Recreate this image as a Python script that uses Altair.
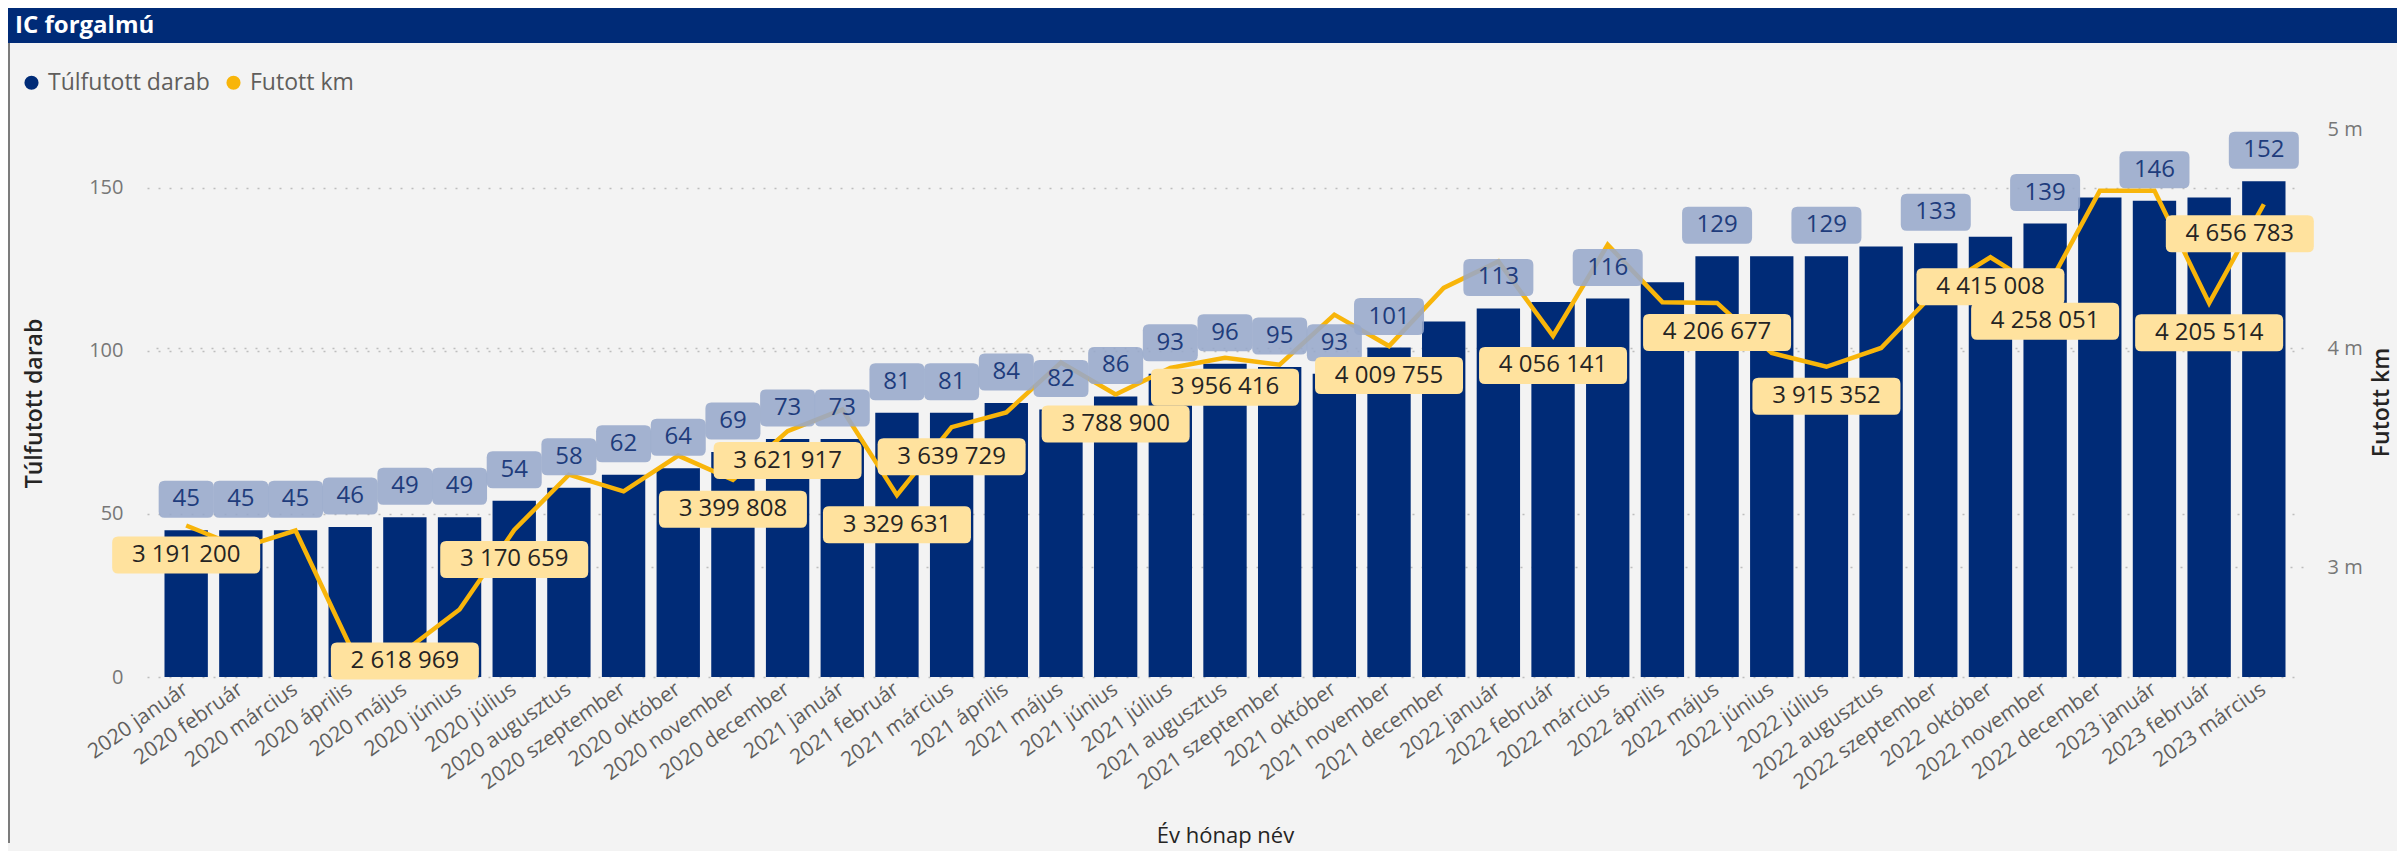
import altair as alt
import pandas as pd

months = [
    "2020 január", "2020 február", "2020 március", "2020 április", "2020 május", "2020 június",
    "2020 július", "2020 augusztus", "2020 szeptember", "2020 október", "2020 november", "2020 december",
    "2021 január", "2021 február", "2021 március", "2021 április", "2021 május", "2021 június",
    "2021 július", "2021 augusztus", "2021 szeptember", "2021 október", "2021 november", "2021 december",
    "2022 január", "2022 február", "2022 március", "2022 április", "2022 május", "2022 június",
    "2022 július", "2022 augusztus", "2022 szeptember", "2022 október", "2022 november", "2022 december",
    "2023 január", "2023 február", "2023 március",
]
tulfutott = [45, 45, 45, 46, 49, 49, 54, 58, 62, 64, 69, 73, 73, 81, 81, 84, 82, 86, 93, 96, 95, 93, 101, 109,
             113, 115, 116, 121, 129, 129, 129, 132, 133, 135, 139, 147, 146, 147, 152]
futott_km = [3191200, 3090000, 3168000, 2640000, 2618969, 2808000, 3170659, 3423000, 3347000, 3510000,
             3399808, 3621917, 3720000, 3329631, 3639729, 3707000, 3935000, 3788900, 3910000, 3956416,
             3925000, 4153000, 4009755, 4275000, 4396000, 4056141, 4472000, 4210000, 4206677, 3978000,
             3915352, 4001000, 4260000, 4415008, 4258051, 4718000, 4718000, 4205514, 4656783]
series_names = ["Túlfutott darab", "Futott km"]
# which data labels Power BI displayed
bar_label_idx = list(range(23)) + [24, 26, 28, 30, 32, 34, 36, 38]
line_label_idx = [0, 4, 6, 10, 11, 13, 14, 17, 19, 22, 25, 28, 30, 33, 34, 37, 38]

NAVY = "#002B77"
GOLD = "#F8B50A"
BG = "#F3F3F3"
FONT = "Open Sans"

df = pd.DataFrame({"honap": months, "db": tulfutott, "km": futott_km, "i": range(len(months))})
df["series"] = series_names[0]
df["bar_lab"] = df["i"].isin(bar_label_idx)
df["line_lab"] = df["i"].isin(line_label_idx)

W, H = 2156, 548
PAD = {"left": 139, "top": 121, "right": 94, "bottom": 174}


def rrect(w, h, r):
    a = 1.0
    b = h / w
    c = r / (w / 2)
    return (f"M{-a+c},{-b} L{a-c},{-b} Q{a},{-b} {a},{-b+c} L{a},{b-c} Q{a},{b} {a-c},{b} "
            f"L{-a+c},{b} Q{-a},{b} {-a},{b-c} L{-a},{-b+c} Q{-a},{-b} {-a+c},{-b} Z")


xscale = alt.Scale(paddingInner=0.207, paddingOuter=0.32)
X = alt.X(
    "honap:N", sort=months, scale=xscale, title="Év hónap név",
    axis=alt.Axis(labelAngle=325, labelAlign="right", labelBaseline="middle",
                  labelFontSize=21, labelColor="#605E5C", labelPadding=10, ticks=False, domain=False,
                  titleFontSize=22, titleFontWeight="normal", titleColor="#252423",
                  titleY=158, titleBaseline="middle", labelOverlap=False, grid=False),
)

yL_scale = alt.Scale(domain=[0, 168], nice=False, zero=True)
yR_scale = alt.Scale(domain=[2500000, 5000000], nice=False, zero=False)

grid_kw = dict(grid=True, gridDash=[2, 9], gridColor="#BDBDBD", gridWidth=1.5, ticks=False, domain=False)

YL = alt.Y("db:Q", scale=yL_scale, title="Túlfutott darab",
           axis=alt.Axis(values=[0, 50, 100, 150], labelFontSize=20, labelColor="#777777",
                         labelPadding=24, titleFontSize=23, titleFontWeight=600, titleColor="#252423",
                         titleX=-113, titleY=274, titleAngle=270, titleAlign="center",
                         titleBaseline="middle", **grid_kw))
YL_plain = alt.Y("db:Q", scale=yL_scale, axis=None)

YR = alt.Y("km:Q", scale=yR_scale, title="Futott km",
           axis=alt.Axis(orient="right", values=[3000000, 4000000, 5000000],
                         labelExpr="datum.value / 1000000 + ' m'", labelFontSize=20,
                         labelColor="#777777", labelPadding=24, titleFontSize=23, titleFontWeight=600,
                         titleColor="#252423", titleX=78, titleY=273, titleAngle=270,
                         titleAlign="center", titleBaseline="middle",
                         gridOpacity={"condition": {"test": "datum.value >= 5000000", "value": 0}, "value": 1},
                         **grid_kw))
YR_plain = alt.Y("km:Q", scale=yR_scale, axis=None)

base = alt.Chart(df)

bars = base.mark_bar().encode(
    x=X, y=YL,
    color=alt.Color("series:N",
                    scale=alt.Scale(domain=series_names, range=[NAVY, GOLD]),
                    legend=alt.Legend(orient="none", legendX=-127, legendY=-58, direction="horizontal",
                                      title=None, symbolType="circle", symbolSize=200, symbolStrokeWidth=0,
                                      labelFontSize=23, labelColor="#605E5C", labelOffset=5, labelLimit=0,
                                      columnPadding=12, padding=0, labelFont=FONT)),
)

line = base.mark_line(color=GOLD, strokeWidth=4.5).encode(x=X, y=YR)

bar_lab_data = base.transform_filter("datum.bar_lab")
box2 = bar_lab_data.transform_filter("datum.db < 100").mark_point(
    shape=rrect(55, 37, 6), filled=True, size=55 * 55, color="#97A9CB", opacity=0.88,
    strokeWidth=0, yOffset=-31).encode(x=X, y=YL_plain)
box3 = bar_lab_data.transform_filter("datum.db >= 100").mark_point(
    shape=rrect(70, 37, 6), filled=True, size=70 * 70, color="#97A9CB", opacity=0.88,
    strokeWidth=0, yOffset=-31).encode(x=X, y=YL_plain)
bar_txt = bar_lab_data.mark_text(fontSize=24, color="#203C7C", font=FONT, baseline="middle",
                                 yOffset=-31).encode(x=X, y=YL_plain, text="db:Q")
bar_labels = alt.layer(box2, box3, bar_txt)

lab_expr = "replace(replace(format(datum.km, ',d'), ',', ' '), ',', ' ')"
line_lab_data = base.transform_filter("datum.line_lab").transform_calculate(lab=lab_expr)


def line_label(filt, dx, dy):
    d = line_lab_data.transform_filter(filt)
    box = d.mark_point(shape=rrect(148, 37, 6), filled=True, size=148 * 148, color="#FFE29E",
                       opacity=1, strokeWidth=0, xOffset=dx, yOffset=dy).encode(x=X, y=YR_plain)
    txt = d.mark_text(fontSize=24, color="#252423", font=FONT, baseline="middle",
                      xOffset=dx, yOffset=dy).encode(x=X, y=YR_plain, text="lab:N")
    return [box, txt]


ll = []
ll += line_label("datum.i != 4 && datum.i != 38", 0, 29.5)
ll += line_label("datum.i == 4", 0, 10)
ll += line_label("datum.i == 38", -24, 29.5)
line_labels = alt.layer(*ll)

one = pd.DataFrame({"t": ["IC forgalmú"]})
header = alt.Chart(one).mark_rect(color=NAVY).encode(
    x=alt.value(-140), x2=alt.value(2250), y=alt.value(-121), y2=alt.value(-86))
header_txt = alt.Chart(one).mark_text(color="white", fontSize=24, fontWeight="bold", font=FONT,
                                      align="left", baseline="middle").encode(
    x=alt.value(-132), y=alt.value(-103), text="t:N")
border = alt.Chart(one).mark_rule(color="#555555", strokeWidth=1.5).encode(
    x=alt.value(-138), y=alt.value(-86), y2=alt.value(714))

chart = alt.layer(bars, line, bar_labels, line_labels, header, header_txt, border).resolve_scale(
    y="independent"
).properties(
    width=W, height=H, padding=PAD, autosize=alt.AutoSizeParams(type="none"), background=BG
).configure(font=FONT).configure_view(stroke=None)

chart.save("out.html", embed_options={"renderer": "svg", "actions": False})
